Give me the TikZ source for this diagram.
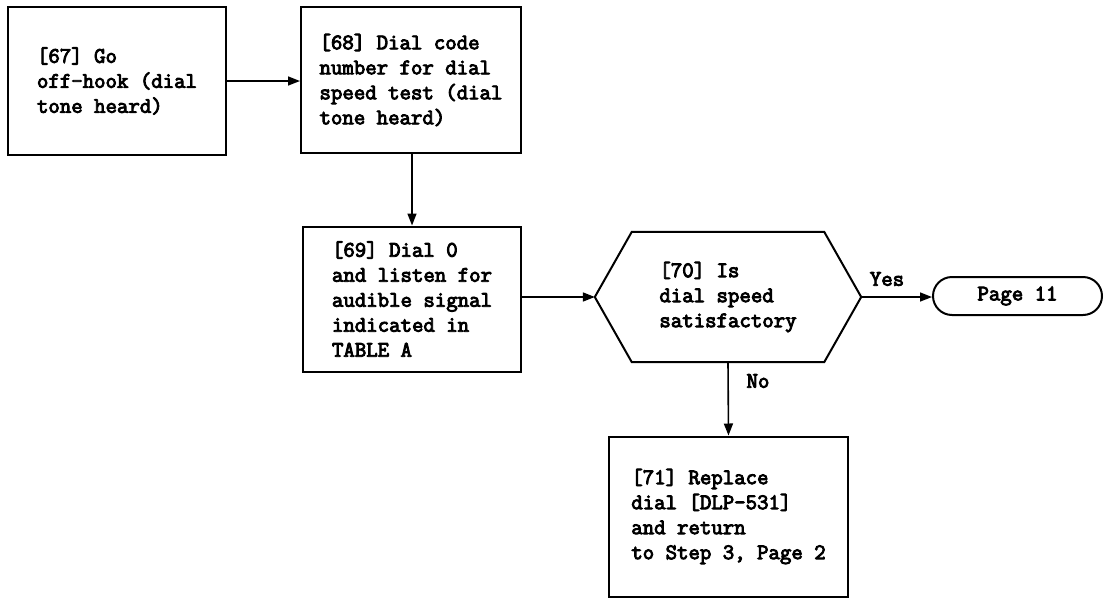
\documentclass[tikz,border=0pt]{standalone}
\usepackage{fontspec}
\newfontfamily\dmono{Latin Modern Mono}[FakeBold=4]
\usetikzlibrary{arrows.meta,shapes.misc,calc}
\begin{document}
\begin{tikzpicture}[x=1pt,y=-1pt,
  txt/.style={font={\dmono\fontsize{22.2}{25}\selectfont}, align=left, inner sep=0pt},
  stepbox/.style={txt, draw, line width=2pt, rectangle},
  conn/.style={line width=1.6pt, -{Triangle[length=12pt,width=9pt]}},
  lbl/.style={font={\dmono\fontsize{22.2}{25}\selectfont}, inner sep=0pt}]
\useasboundingbox (0,0) rectangle (1106,600);
% boxes
\node[stepbox, minimum width=218pt, minimum height=148pt] (n67) at (117,81)
  {[67] Go\\off-hook (dial\\tone heard)};
\node[stepbox, minimum width=220pt, minimum height=146pt] (n68) at (411,80)
  {[68] Dial code\\number for dial\\speed test (dial\\tone heard)};
\node[stepbox, minimum width=218pt, minimum height=145pt] (n69) at (412,299)
  {[69] Dial 0\\and listen for\\audible signal\\indicated in\\TABLE A};
\node[txt, minimum width=266pt, minimum height=130pt] (n70) at (728,297)
  {[70] Is\\dial speed\\satisfactory};
\draw[line width=2pt, line join=miter]
  (n70.west) -- ($(n70.north west)+(37,0)$) -- ($(n70.north east)+(-37,0)$)
  -- (n70.east) -- ($(n70.south east)+(-37,0)$) -- ($(n70.south west)+(37,0)$) -- cycle;
\node[txt, draw, line width=2pt, rounded rectangle, minimum width=169pt, minimum height=38pt] (p11) at (1017.5,296)
  {Page 11};
\node[stepbox, minimum width=239pt, minimum height=160pt] (n71) at (728.5,516.5)
  {[71] Replace\\dial [DLP-531]\\and return\\to Step 3, Page 2};
% connectors
\draw[conn] (n67.east) -- (n67.east -| n68.west);
\draw[conn] (n69.north |- n68.south) -- (n69.north);
\draw[conn] (n70.west -| n69.east) -- (n70.west);
\draw[conn] (n70.east) -- (n70.east -| p11.west);
\draw[conn] (n70.south) -- (n71.north);
% labels
\node[lbl] (yes) at (887,279) {Yes};
\node[lbl] (no) at (758,381) {No};
\end{tikzpicture}
\end{document}
